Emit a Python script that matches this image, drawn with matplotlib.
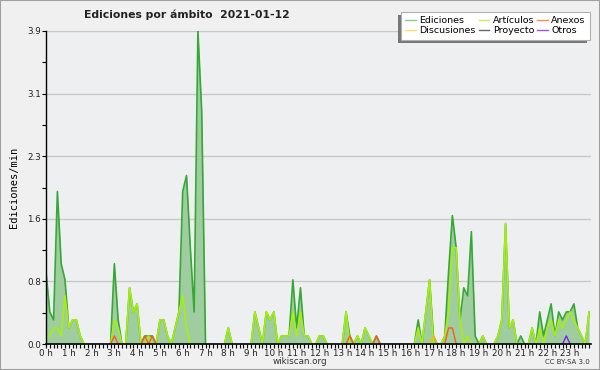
import numpy as np
import matplotlib
import matplotlib.pyplot as plt
from matplotlib.lines import Line2D
from matplotlib.patches import Rectangle

matplotlib.use('Agg')

# edits per minute, one value every 10 minutes (144 points, 12 per row = 2 hours)
ediciones = [
    0.9, 0.4, 0.3, 1.9, 1.0, 0.8, 0.2, 0.3, 0.3, 0.1, 0, 0,
    0, 0, 0, 0, 0, 0, 1.0, 0.3, 0, 0, 0.7, 0.4,
    0.5, 0, 0.1, 0.1, 0.1, 0, 0.3, 0.3, 0.1, 0, 0.2, 0.4,
    1.9, 2.1, 1.2, 0.4, 3.9, 2.9, 0, 0, 0, 0, 0, 0,
    0.2, 0, 0, 0, 0, 0, 0, 0.4, 0.2, 0, 0.4, 0.3,
    0.4, 0, 0.1, 0.1, 0.1, 0.8, 0.2, 0.7, 0.1, 0.1, 0, 0,
    0.1, 0.1, 0, 0, 0, 0, 0, 0.4, 0.1, 0, 0.1, 0,
    0.2, 0.1, 0, 0.1, 0, 0, 0, 0, 0, 0, 0, 0,
    0, 0, 0.3, 0, 0.4, 0.8, 0.1, 0, 0, 0.1, 0.9, 1.6,
    1.2, 0.3, 0.7, 0.6, 1.4, 0.1, 0, 0.1, 0, 0, 0, 0.1,
    0.3, 1.5, 0.2, 0.3, 0, 0.1, 0, 0, 0.2, 0, 0.4, 0.1,
    0.3, 0.5, 0.1, 0.4, 0.3, 0.4, 0.4, 0.5, 0.2, 0.1, 0, 0.4,
]
articulos = [
    0.1, 0.1, 0.2, 0.2, 0.1, 0.6, 0.2, 0.3, 0.3, 0.1, 0, 0,
    0, 0, 0, 0, 0, 0, 0.3, 0.2, 0, 0, 0.7, 0.4,
    0.5, 0, 0, 0.1, 0, 0, 0.3, 0.3, 0.1, 0, 0.2, 0.4,
    0.6, 0.2, 0, 0, 0, 0, 0, 0, 0, 0, 0, 0,
    0.2, 0, 0, 0, 0, 0, 0, 0.4, 0.2, 0, 0.4, 0.3,
    0.4, 0, 0.1, 0.1, 0.1, 0.4, 0.1, 0.4, 0.1, 0.1, 0, 0,
    0.1, 0.1, 0, 0, 0, 0, 0, 0.4, 0, 0, 0.1, 0,
    0.2, 0.1, 0, 0, 0, 0, 0, 0, 0, 0, 0, 0,
    0, 0, 0.2, 0, 0.4, 0.8, 0, 0, 0, 0.1, 0.4, 1.2,
    1.2, 0.3, 0, 0.1, 0, 0, 0, 0.1, 0, 0, 0, 0.1,
    0.3, 1.5, 0.2, 0.3, 0, 0, 0, 0, 0.2, 0, 0.2, 0,
    0.2, 0.3, 0.1, 0.3, 0.2, 0.3, 0.4, 0.3, 0.2, 0.1, 0, 0.4,
]
anexos = [0.0] * 144
anexos[18] = 0.1
anexos[26] = 0.1
anexos[28] = 0.1
anexos[80] = 0.1
anexos[87] = 0.1
anexos[106] = 0.2
anexos[107] = 0.2
discusiones = [0.0] * 144
discusiones[102] = 0.1
proyecto = [0.0] * 144
otros = [0.0] * 144
otros[137] = 0.1

hour_labels = ['%d h' % h for h in range(24)]
y_max = 3.9

hours = np.arange(144) / 6.0


def visible(vals):
    # hide the segments that lie on the baseline
    v = np.array(vals, dtype=float)
    nz = v > 0
    keep = nz.copy()
    keep[1:] |= nz[:-1]
    keep[:-1] |= nz[1:]
    return np.where(keep, v, np.nan)


fig = plt.figure(figsize=(6, 3.7), dpi=100, facecolor='#f0f0f0')
fig.patches.append(Rectangle((0, 0), 1, 1, transform=fig.transFigure, fill=False,
                             edgecolor='#a0a0a0', linewidth=1.5))
ax = fig.add_axes([46 / 600, 1 - 344 / 370, 545 / 600, 313 / 370])
ax.set_facecolor('#eeeff1')

ax.fill_between(hours, ediciones, 0, color='#9fcd9f', linewidth=0)
ax.plot(hours, visible(ediciones), color='#35a835', linewidth=1.2)
ax.plot(hours, visible(articulos), color='#a8ee10', linewidth=1.2)
ax.plot(hours, visible(anexos), color='#ff5a1a', linewidth=1.0)
ax.plot(hours, visible(discusiones), color='#f5c000', linewidth=1.0)
ax.plot(hours, visible(proyecto), color='#555555', linewidth=1.0)
ax.plot(hours, visible(otros), color='#7a22ee', linewidth=1.0)

ax.set_xlim(0, 143.5 / 6)
ax.set_ylim(0, y_max)
yt = np.linspace(0, y_max, 6)
ax.set_yticks(yt)
ax.set_yticklabels(['%.1f' % v for v in yt])
ax.set_yticks((yt[:-1] + yt[1:]) / 2, minor=True)
ax.set_xticks(range(24))
ax.set_xticklabels(hour_labels)
ax.set_xticks(np.arange(0, 144) / 6.0, minor=True)
ax.tick_params(axis='both', which='both', direction='out', length=3, width=0.8,
               labelsize=6.3, pad=0.5, labelcolor='#222222')
ax.grid(axis='y', color='#c8c8c8', linewidth=1)
ax.set_axisbelow(True)
for s in ['top', 'right']:
    ax.spines[s].set_visible(False)
ax.spines['left'].set_linewidth(1)
ax.spines['bottom'].set_linewidth(1.2)

ax.set_ylabel('Ediciones/min', family='DejaVu Sans Mono', fontsize=7.5, labelpad=6)

fig.text(187 / 600, 1 - 15 / 370, 'Ediciones por ámbito  2021-01-12', ha='center', va='center',
         fontsize=7.8, fontweight='bold', color='#222222')
fig.text(300 / 600, 1 - 362 / 370, 'wikiscan.org', ha='center', va='center', fontsize=6.3,
         color='#333333')
fig.text(590 / 600, 1 - 362 / 370, 'CC BY-SA 3.0', ha='right', va='center', fontsize=5,
         color='#333333')

handles = [
    Line2D([], [], color='#88d088', lw=1),
    Line2D([], [], color='#ffdd66', lw=1),
    Line2D([], [], color='#ccee55', lw=1),
    Line2D([], [], color='#666666', lw=1),
    Line2D([], [], color='#ff8855', lw=1),
    Line2D([], [], color='#9955ee', lw=1),
]
labels = ['Ediciones', 'Discusiones', 'Artículos', 'Proyecto', 'Anexos', 'Otros']
leg = fig.legend(handles, labels, ncol=3, loc='upper right', bbox_to_anchor=(590 / 600, 1 - 12 / 370),
                 fontsize=6.8, frameon=True, fancybox=False, shadow=False, handlelength=1.1,
                 handletextpad=0.4, columnspacing=0.3, labelspacing=0.12, borderpad=0.45,
                 borderaxespad=0, framealpha=1)
leg.get_frame().set_edgecolor('#b0b0b0')
leg.get_frame().set_facecolor('white')
leg.get_frame().set_linewidth(0.8)

# shadow below-left of the legend box
fig.canvas.draw()
bb = leg.get_window_extent().transformed(fig.transFigure.inverted())
dx, dy = 3 / 600, 3 / 370
fig.patches.append(Rectangle((bb.x0 - dx, bb.y0 - dy), bb.width, bb.height, transform=fig.transFigure,
                             facecolor='#777777', edgecolor='none', zorder=4))
leg.set_zorder(5)

fig.savefig('out.png', dpi=100, facecolor=fig.get_facecolor())
